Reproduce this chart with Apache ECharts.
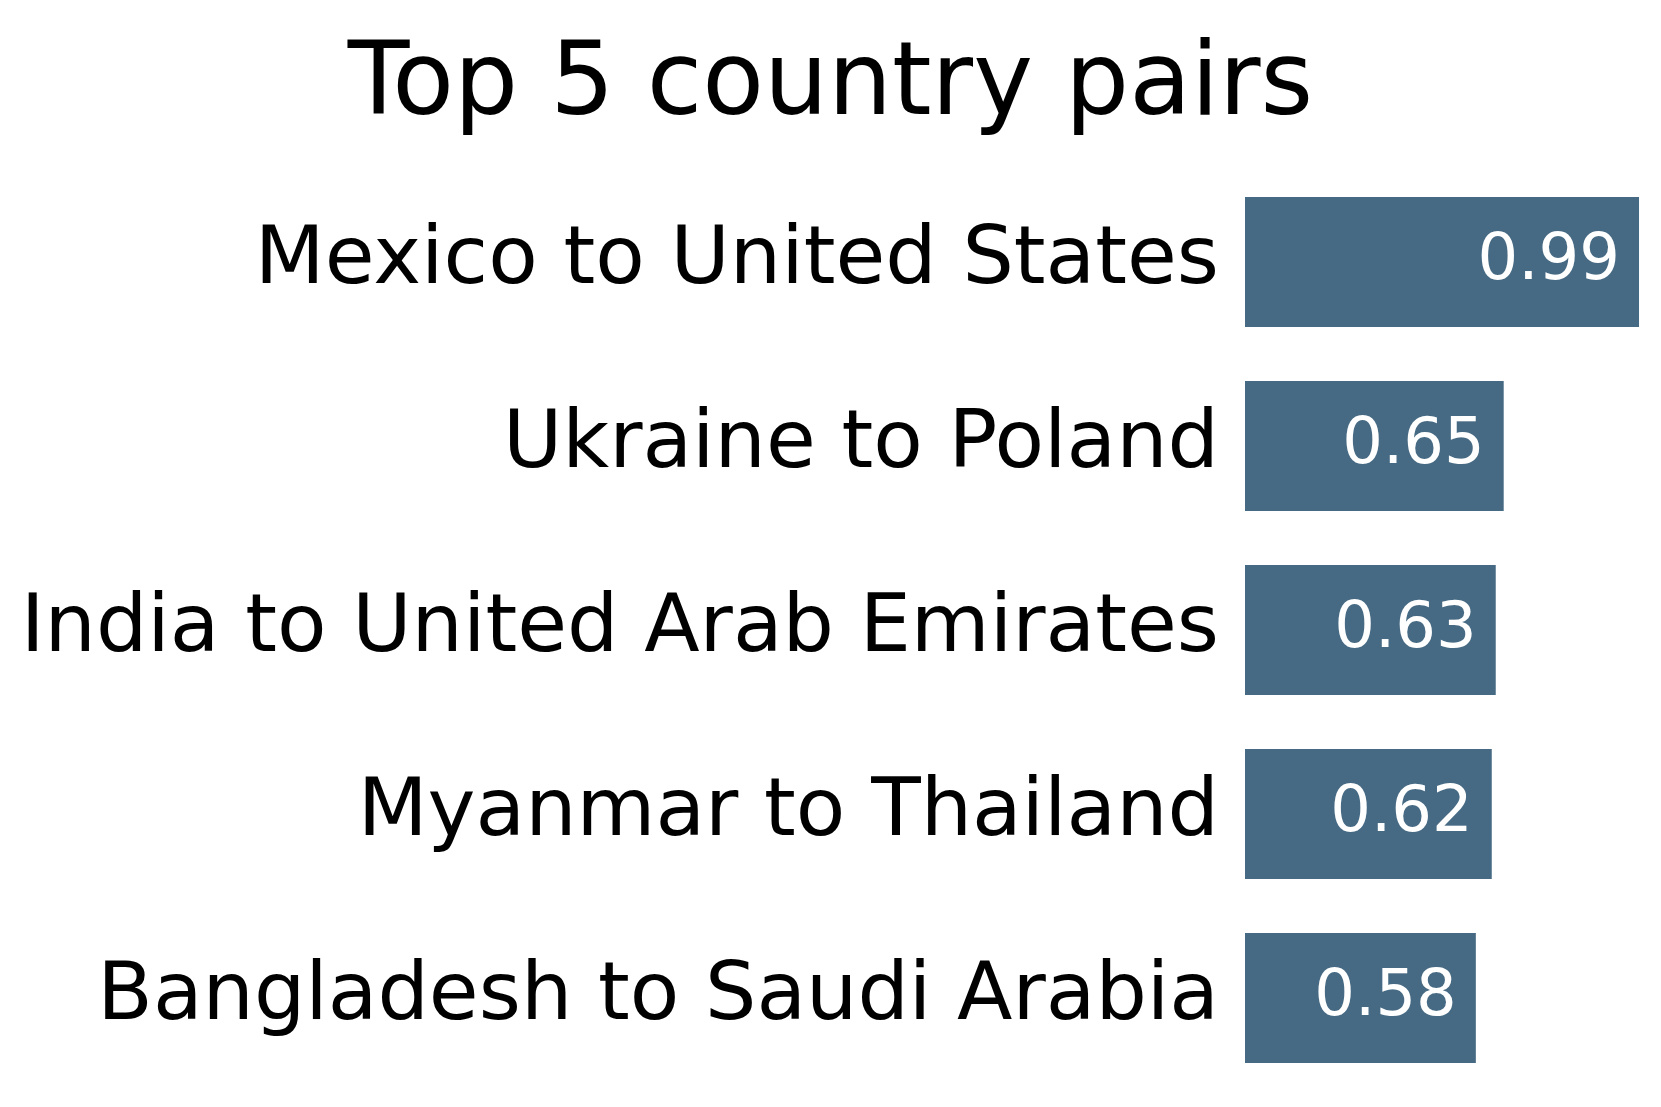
<!DOCTYPE html>
<html>
<head>
<meta charset="utf-8">
<script src="https://cdn.jsdelivr.net/npm/echarts@6/dist/echarts.min.js"></script>
<style>
  html, body { margin: 0; padding: 0; background: #ffffff; }
  #chart { width: 1661px; height: 1107px; }
</style>
</head>
<body>
<div id="chart"></div>
<script>
// 数据
const pairs = [
  "Mexico to United States",
  "Ukraine to Poland",
  "India to United Arab Emirates",
  "Myanmar to Thailand",
  "Bangladesh to Saudi Arabia"
];
const scores = [0.99, 0.65, 0.63, 0.62, 0.58];

const chart = echarts.init(document.getElementById('chart'), null, { renderer: 'canvas' });

const font = "DejaVu Sans";

chart.setOption({
  backgroundColor: "#ffffff",
  animation: false,
  title: {
    text: "Top 5 country pairs",
    left: "center",
    top: 32,
    textStyle: {
      fontFamily: font,
      fontSize: 101,
      fontWeight: "normal",
      color: "#000000"
    }
  },
  grid: {
    left: 1245,
    right: 18,
    top: 170,
    bottom: 17,
    containLabel: false
  },
  xAxis: {
    type: "value",
    min: 0,
    max: 1,
    show: false
  },
  yAxis: {
    type: "category",
    inverse: true,
    data: pairs,
    axisLine: { show: false },
    axisTick: { show: false },
    splitLine: { show: false },
    axisLabel: {
      margin: 26,
      fontFamily: font,
      fontSize: 81,
      color: "#000000"
    }
  },
  series: [
    {
      type: "bar",
      data: scores,
      barCategoryGap: "29.3%",
      itemStyle: { color: "#466A83" },
      label: {
        show: true,
        position: "insideRight",
        distance: 19,
        fontFamily: font,
        fontSize: 64,
        color: "#ffffff",
        formatter: (p) => p.value.toFixed(2)
      }
    }
  ]
});
</script>
</body>
</html>
